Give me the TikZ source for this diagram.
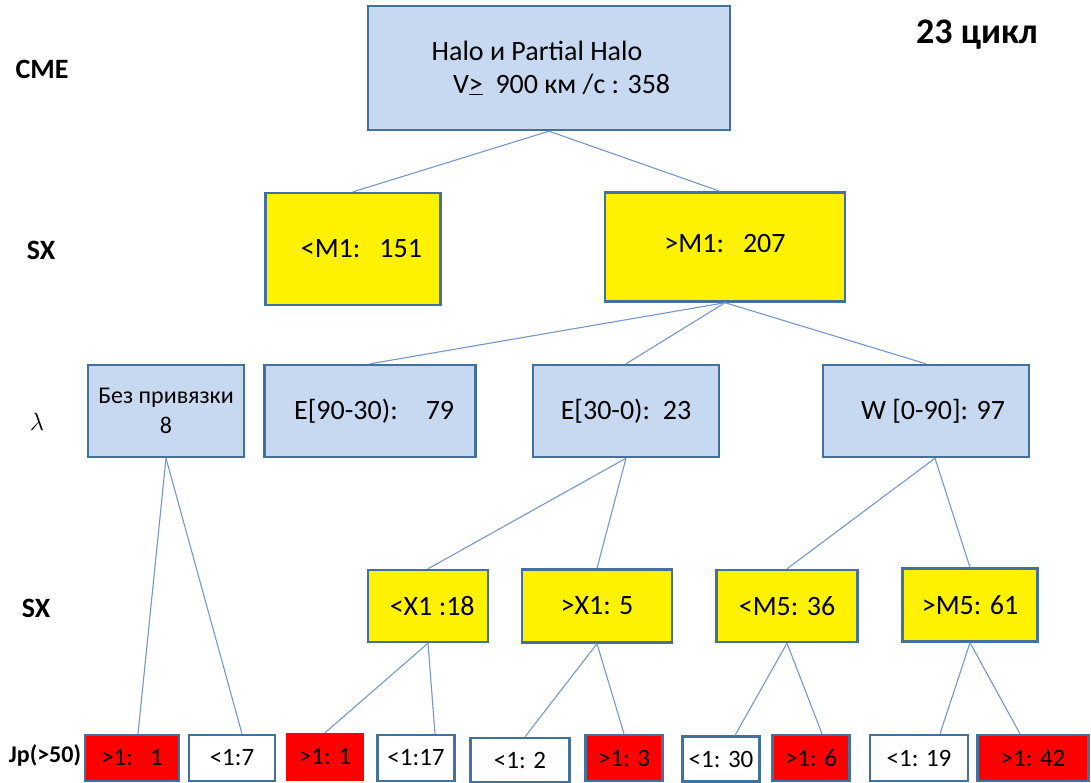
\documentclass[tikz,border=0pt]{standalone}
\usepackage{fontspec}
\setmainfont{Carlito}
\usepackage{xcolor}
\usetikzlibrary{positioning}

\definecolor{bordblue}{HTML}{41719C}
\definecolor{lineblue}{HTML}{7397D0}
\definecolor{paleblue}{HTML}{C6D9F1}

\tikzset{
  cell/.style={draw=bordblue, line width=2.4pt, inner sep=0pt, font=\fontsize{28}{33}\selectfont},
  bluecell/.style={cell, fill=paleblue},
  yelcell/.style={cell, fill=yellow},
  leafcell/.style={cell, font=\fontsize{25}{30}\selectfont, minimum height=46},
  redcell/.style={leafcell, fill=red},
  whitecell/.style={leafcell, fill=white},
  rowlabel/.style={font=\bfseries\fontsize{28}{32}\selectfont},
  link/.style={draw=lineblue, line width=1.1pt}
}

\begin{document}
\begin{tikzpicture}[x=1pt, y=-1pt]
  \useasboundingbox (0,0) rectangle (1091,782);

  % row labels
  \node[rowlabel] (lcme) at (42,69) {CME};
  \node[rowlabel] (lsx1) at (41,250) {SX};
  \node[font=\fontsize{28}{32}\selectfont] (llam) at (37,422) {$\lambda$};
  \node[rowlabel] (lsx2) at (36,608) {SX};
  \node[font=\bfseries\fontsize{24}{28}\selectfont] (ljp) at (45,755) {Jp(>50)};
  \node[font=\bfseries\fontsize{36}{40}\selectfont] (cycle) at (977,35) {23 цикл};

  % CME
  \node[bluecell, minimum width=362, minimum height=124, align=center] (cme) at (549,68)
    {Halo и Partial Halo\hspace*{24pt}\\ \hspace*{0.9em}V\underline{>}\ \ 900 км /с : 358};

  % SX, first level
  \node[yelcell, minimum width=175, minimum height=112] (m1lo) at (353,249) {\hspace*{0.6em}<M1:\ \ \ 151};
  \node[yelcell, minimum width=240, minimum height=109] (m1hi) at (725,247) {\raisebox{0.25em}{>M1:\ \ \ 207}};

  % longitude
  \node[bluecell, minimum width=156, minimum height=92, align=center,
        font=\fontsize{24}{30}\selectfont] (nobind) at (166,411) {Без привязки\\8};
  \node[bluecell, minimum width=211, minimum height=92] (east1) at (370,411) {\hspace*{0.3em}E[90-30):\quad 79};
  \node[bluecell, minimum width=186, minimum height=92] (east2) at (626,411) {E[30-0):\ \ 23};
  \node[bluecell, minimum width=206, minimum height=92] (west) at (926,411) {\hspace*{0.5em}W [0-90]: 97};

  % SX, second level
  \node[yelcell, minimum width=120, minimum height=72] (x1lo) at (428,606) {\hspace*{0.3em}<X1 :18};
  \node[yelcell, minimum width=150, minimum height=73] (x1hi) at (597,606) {>X1: 5};
  \node[yelcell, minimum width=141, minimum height=72] (m5lo) at (787,606) {<M5: 36};
  \node[yelcell, minimum width=135, minimum height=73] (m5hi) at (970,605) {>M5: 61};

  % Jp(>50)
  \node[redcell, minimum width=94] (jp1) at (132,758) {>1:\ \ \ 1};
  \node[whitecell, minimum width=86] (jp2) at (232,758) {<1:7};
  \node[redcell, draw=red, minimum width=76] (jp3) at (325,757) {>1: 1};
  \node[whitecell, minimum width=77] (jp4) at (416,758) {<1:17};
  \node[whitecell, minimum width=99, minimum height=44] (jp5) at (520,760) {<1: 2};
  \node[redcell, minimum width=77] (jp6) at (624,758) {>1: 3};
  \node[whitecell, minimum width=77, minimum height=45] (jp7) at (721,759) {<1: 30};
  \node[redcell, minimum width=77] (jp8) at (811,758) {>1: 6};
  \node[whitecell, minimum width=98] (jp9) at (919,758) {<1: 19};
  \node[redcell, minimum width=111] (jp10) at (1033,758) {>1: 42};

  % connectors
  \draw[link] (cme.south) -- (m1lo.north);
  \draw[link] (cme.south) -- ([xshift=-5]m1hi.north);
  \draw[link] (m1hi.south) -- (east1.north);
  \draw[link] (m1hi.south) -- (east2.north);
  \draw[link] (m1hi.south) -- (west.north);
  \draw[link] (nobind.south) -- ([xshift=6]jp1.north);
  \draw[link] (nobind.south) -- ([xshift=10]jp2.north);
  \draw[link] (east2.south) -- (x1lo.north);
  \draw[link] (east2.south) -- (x1hi.north);
  \draw[link] ([xshift=9]west.south) -- (m5lo.north);
  \draw[link] ([xshift=9]west.south) -- (m5hi.north);
  \draw[link] (x1lo.south) -- (jp3.north);
  \draw[link] (x1lo.south) -- ([xshift=19]jp4.north);
  \draw[link] (x1hi.south) -- ([xshift=5]jp5.north);
  \draw[link] (x1hi.south) -- (jp6.north);
  \draw[link] (m5lo.south) -- ([xshift=14]jp7.north);
  \draw[link] (m5lo.south) -- ([xshift=11]jp8.north);
  \draw[link] (m5hi.south) -- ([xshift=21]jp9.north);
  \draw[link] (m5hi.south) -- ([xshift=-13]jp10.north);
\end{tikzpicture}
\end{document}
